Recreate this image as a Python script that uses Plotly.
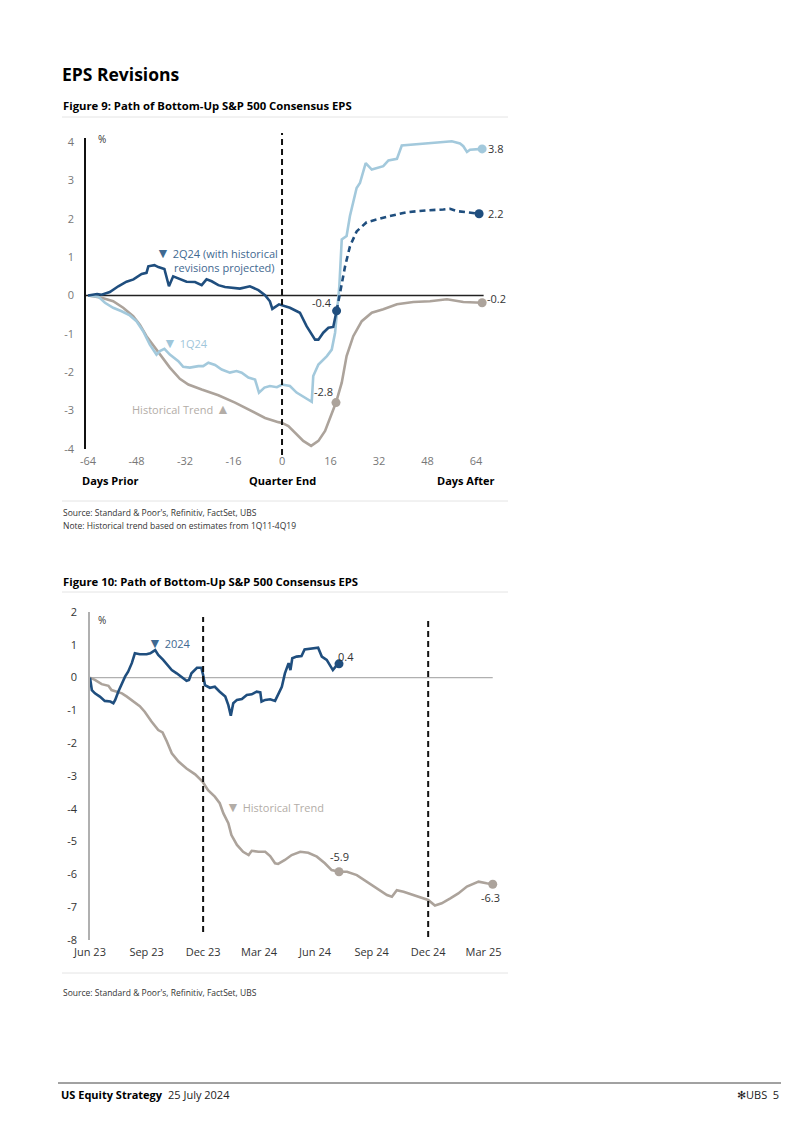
import plotly.graph_objects as go

OFF = 0
W, H = 802, 1134
def px(x): return (x - OFF) / W
def py(y): return 1 - (y - OFF) / H

# ---------------- Figure 9 data (days relative to quarter end, % revision) ----------------
q2_days = [-64, -61, -59.5, -56.8, -54, -51.3, -49, -46.3, -44.7, -44.1, -42.1, -40.8, -38.8, -37.5, -37.3,
           -35.9, -33.7, -31.5, -28.7, -26.5, -24.9, -23.2, -21, -18.8, -13.9, -10.6, -7.8, -5.6, -4, -3.2,
           -1, 0, 2.6, 5.9, 8.1, 10.9, 12, 13.6, 15.3, 16.9, 18]
q2_vals = [0, 0.04, 0.02, 0.09, 0.24, 0.36, 0.42, 0.56, 0.59, 0.76, 0.79, 0.74, 0.69, 0.24, 0.24,
           0.5, 0.44, 0.36, 0.35, 0.27, 0.42, 0.37, 0.27, 0.22, 0.18, 0.24, 0.14, 0.01, -0.15, -0.35,
           -0.23, -0.26, -0.32, -0.45, -0.8, -1.15, -1.15, -0.97, -0.84, -0.82, -0.4]
q2p_days = [18, 19.1, 20.8, 22.4, 24.6, 27.9, 31.2, 35.6, 41.2, 47.8, 53.2, 55.4, 57.6, 62, 65]
q2p_vals = [-0.4, 0.07, 0.76, 1.28, 1.67, 1.91, 1.98, 2.07, 2.17, 2.22, 2.24, 2.26, 2.2, 2.15, 2.13]

q1_days = [-64, -60.6, -58.4, -55.7, -52.9, -50.2, -48, -45.8, -43.6, -41.4, -40.3, -38.8, -37, -34.2, -32.6,
           -30.4, -27.6, -26, -24.3, -22.1, -19.9, -17.2, -15, -13.3, -11.1, -8.9, -7.6, -5.8, -4, -1.7,
           0, 2.6, 4.8, 7.6, 9.8, 10.3, 12, 14.8, 16.4, 17.5, 18.6, 18.9, 19.7, 21.3, 22.4,
           24.6, 25.7, 27.6, 29.6, 31.2, 33.4, 35.1, 37.9, 39.5, 42.2, 47.8, 53.2, 56, 58.7, 59.8,
           61, 62, 66]
q1_vals = [0, -0.03, -0.19, -0.32, -0.41, -0.52, -0.67, -0.93, -1.28, -1.54, -1.45, -1.39, -1.54, -1.71, -1.86,
           -1.88, -1.84, -1.84, -1.75, -1.81, -1.93, -2.01, -1.97, -2.01, -2.14, -2.19, -2.53, -2.4, -2.36, -2.39,
           -2.32, -2.36, -2.53, -2.66, -2.77, -2.1, -1.8, -1.58, -1.41, -0.97, -0.1, 0.24, 1.46, 1.55, 2.07,
           2.8, 2.93, 3.45, 3.28, 3.31, 3.37, 3.52, 3.56, 3.91, 3.93, 3.98, 4.0, 4.02, 3.96, 3.89,
           3.74, 3.8, 3.82]

hist_days = [-64, -59.5, -55.7, -52.4, -49.1, -46.9, -44.7, -41.9, -39.7, -37, -33.7, -30.9, -26.5, -21, -15.5,
             -10, -5.6, -1.2, 0, 2.1, 3.2, 7, 9.6, 12, 14.2, 17.8, 19.7, 21.3, 23.5, 26.3,
             29.6, 33.4, 37.9, 43.3, 48.8, 54.4, 59.8, 66]
hist_vals = [0, -0.06, -0.15, -0.32, -0.54, -0.76, -1.06, -1.36, -1.58, -1.88, -2.17, -2.32, -2.45, -2.6, -2.79,
             -3.01, -3.19, -3.3, -3.32, -3.4, -3.49, -3.79, -3.92, -3.79, -3.53, -2.79, -2.27, -1.58, -1.06, -0.67,
             -0.45, -0.36, -0.23, -0.17, -0.15, -0.1, -0.17, -0.19]

top_xticks = [-64, -48, -32, -16, 0, 16, 32, 48, 64]
top_yticks = [4, 3, 2, 1, 0, -1, -2, -3, -4]

# ---------------- Figure 10 data ----------------
y24_dates = ["2023-06-30", "2023-07-03", "2023-07-08", "2023-07-16", "2023-07-24", "2023-08-02", "2023-08-07",
             "2023-08-10", "2023-08-15", "2023-08-21", "2023-08-26", "2023-08-31", "2023-09-06", "2023-09-11",
             "2023-09-19", "2023-09-30", "2023-10-06", "2023-10-14", "2023-10-19", "2023-10-27", "2023-11-04",
             "2023-11-10", "2023-11-18", "2023-11-26", "2023-12-04", "2023-12-08", "2023-12-12", "2023-12-21",
             "2023-12-28", "2023-12-31", "2024-01-03", "2024-01-11", "2024-01-19", "2024-01-27", "2024-02-05",
             "2024-02-10", "2024-02-14", "2024-02-18", "2024-02-24", "2024-03-03", "2024-03-11", "2024-03-19",
             "2024-03-27", "2024-04-02", "2024-04-04", "2024-04-10", "2024-04-18", "2024-04-26", "2024-05-01",
             "2024-05-07", "2024-05-12", "2024-05-18", "2024-05-21", "2024-05-24", "2024-05-31", "2024-06-08",
             "2024-06-13", "2024-06-22", "2024-07-05", "2024-07-11", "2024-07-19", "2024-07-29", "2024-08-03",
             "2024-08-08"]
y24_vals = [0, -0.38, -0.48, -0.58, -0.71, -0.73, -0.78,
            -0.68, -0.43, -0.17, 0.03, 0.18, 0.44, 0.74,
            0.71, 0.71, 0.74, 0.84, 0.69, 0.54, 0.38,
            0.23, 0.13, 0.0, -0.1, -0.07, 0.13, 0.3,
            0.3, 0.08, -0.23, -0.31, -0.28, -0.43, -0.58,
            -0.84, -1.16, -0.78, -0.68, -0.65, -0.53, -0.51,
            -0.43, -0.45, -0.73, -0.68, -0.66, -0.71, -0.53,
            -0.28, 0.13, 0.44, 0.23, 0.59, 0.64, 0.66,
            0.86, 0.89, 0.91, 0.64, 0.54, 0.23, 0.35,
            0.42]

ht_dates = ["2023-06-30", "2023-07-08", "2023-07-19", "2023-07-30", "2023-08-04", "2023-08-12", "2023-08-21",
            "2023-08-29", "2023-09-08", "2023-09-19", "2023-09-27", "2023-10-08", "2023-10-19", "2023-10-26",
            "2023-11-02", "2023-11-10", "2023-11-21", "2023-12-04", "2023-12-18", "2023-12-30", "2024-01-08",
            "2024-01-19", "2024-01-27", "2024-02-02", "2024-02-10", "2024-02-15", "2024-02-24", "2024-03-05",
            "2024-03-14", "2024-03-19", "2024-03-30", "2024-04-10", "2024-04-18", "2024-04-26", "2024-05-01",
            "2024-05-12", "2024-05-23", "2024-06-06", "2024-06-19", "2024-07-03", "2024-07-16", "2024-07-27",
            "2024-08-08", "2024-08-21", "2024-09-06", "2024-09-22", "2024-10-08", "2024-10-25", "2024-11-02",
            "2024-11-10", "2024-11-21", "2024-12-07", "2024-12-23", "2024-12-31", "2025-01-11", "2025-01-22",
            "2025-02-05", "2025-02-18", "2025-03-04", "2025-03-15", "2025-03-23", "2025-04-05", "2025-04-15"]
ht_vals = [0, -0.07, -0.2, -0.25, -0.38, -0.43, -0.48,
           -0.58, -0.73, -0.87, -1.04, -1.34, -1.6, -1.67,
           -1.95, -2.31, -2.56, -2.77, -2.95, -3.17, -3.43,
           -3.63, -3.83, -4.14, -4.44, -4.8, -5.1, -5.31,
           -5.41, -5.28, -5.31, -5.31, -5.44, -5.66, -5.68,
           -5.56, -5.41, -5.31, -5.34, -5.46, -5.66, -5.87,
           -5.92, -5.92, -6.02, -6.22, -6.42, -6.63, -6.68,
           -6.48, -6.53, -6.63, -6.73, -6.78, -6.95, -6.88,
           -6.73, -6.58, -6.37, -6.27, -6.22, -6.27, -6.3]

bot_xtick_vals = ["2023-06-30", "2023-09-30", "2023-12-31", "2024-03-31", "2024-06-30",
                  "2024-09-30", "2024-12-31", "2025-03-31"]
bot_xtick_text = ["Jun 23", "Sep 23", "Dec 23", "Mar 24", "Jun 24", "Sep 24", "Dec 24", "Mar 25"]
bot_yticks = [2, 1, 0, -1, -2, -3, -4, -5, -6, -7, -8]
year_ends = ["2023-12-31", "2024-12-31"]

# ---------------- styles ----------------
DARK = "#1f4e7e"
LIGHT = "#a3c9dc"
GREY = "#aca39b"
DARK_T = "#3f6991"
LIGHT_T = "#9fc6da"
GREY_T = "#b3ada7"
FONT = "Open Sans"
DOWN = "<span style='font-size:14px'>▼</span>"
UP = "<span style='font-size:14px'>▲</span>"

fig = go.Figure()

fig.add_trace(go.Scatter(x=hist_days, y=hist_vals, mode="lines", line=dict(color=GREY, width=2.6),
                         xaxis="x", yaxis="y", showlegend=False, hoverinfo="skip"))
fig.add_trace(go.Scatter(x=q1_days, y=q1_vals, mode="lines", line=dict(color=LIGHT, width=2.6),
                         xaxis="x", yaxis="y", showlegend=False, hoverinfo="skip"))
fig.add_trace(go.Scatter(x=q2p_days, y=q2p_vals, mode="lines", line=dict(color=DARK, width=2.6, dash="6px,4px"),
                         xaxis="x", yaxis="y", showlegend=False, hoverinfo="skip"))
fig.add_trace(go.Scatter(x=q2_days, y=q2_vals, mode="lines", line=dict(color=DARK, width=2.6),
                         xaxis="x", yaxis="y", showlegend=False, hoverinfo="skip"))
fig.add_trace(go.Scatter(x=[hist_days[25], hist_days[-1]], y=[hist_vals[25], hist_vals[-1]], mode="markers",
                         marker=dict(color=GREY, size=9), xaxis="x", yaxis="y", showlegend=False, cliponaxis=False))
fig.add_trace(go.Scatter(x=[q1_days[-1]], y=[q1_vals[-1]], mode="markers",
                         marker=dict(color=LIGHT, size=9), xaxis="x", yaxis="y", showlegend=False, cliponaxis=False))
fig.add_trace(go.Scatter(x=[q2_days[-1], q2p_days[-1]], y=[q2_vals[-1], q2p_vals[-1]], mode="markers",
                         marker=dict(color=DARK, size=9), xaxis="x", yaxis="y", showlegend=False, cliponaxis=False))

fig.add_trace(go.Scatter(x=ht_dates, y=ht_vals, mode="lines", line=dict(color=GREY, width=2.6),
                         xaxis="x2", yaxis="y2", showlegend=False, hoverinfo="skip"))
fig.add_trace(go.Scatter(x=y24_dates, y=y24_vals, mode="lines", line=dict(color=DARK, width=2.6),
                         xaxis="x2", yaxis="y2", showlegend=False, hoverinfo="skip"))
fig.add_trace(go.Scatter(x=[ht_dates[42], ht_dates[-1]], y=[ht_vals[42], ht_vals[-1]], mode="markers",
                         marker=dict(color=GREY, size=9), xaxis="x2", yaxis="y2", showlegend=False, cliponaxis=False))
fig.add_trace(go.Scatter(x=[y24_dates[-1]], y=[y24_vals[-1]], mode="markers",
                         marker=dict(color=DARK, size=9), xaxis="x2", yaxis="y2", showlegend=False, cliponaxis=False))

shapes = []
shapes.append(dict(type="line", xref="x", yref="y", x0=-64.66, x1=66.5, y0=0, y1=0,
                   line=dict(color="#222", width=1.3), layer="below"))
shapes.append(dict(type="line", xref="x2", yref="y2", x0="2023-06-30", x1="2025-04-15", y0=0, y1=0,
                   line=dict(color="#b0b0b0", width=1.3), layer="below"))
shapes.append(dict(type="line", xref="x", yref="paper", x0=0, x1=0, y0=py(455), y1=py(133),
                   line=dict(color="#111", width=2, dash="6px,4px")))
shapes.append(dict(type="line", xref="x2", yref="paper", x0=year_ends[0], x1=year_ends[0], y0=py(932), y1=py(617),
                   line=dict(color="#111", width=2, dash="6px,4px")))
shapes.append(dict(type="line", xref="x2", yref="paper", x0=year_ends[1], x1=year_ends[1], y0=py(937), y1=py(618),
                   line=dict(color="#111", width=2, dash="6px,4px")))
for yy in (117, 501, 592, 973):
    shapes.append(dict(type="line", xref="paper", yref="paper", x0=px(62), x1=px(508), y0=py(yy), y1=py(yy),
                       line=dict(color="#e4e4e4", width=1)))
shapes.append(dict(type="line", xref="paper", yref="paper", x0=px(58), x1=px(781), y0=py(1083), y1=py(1083),
                   line=dict(color="#444", width=1)))

ann = []
def text(x, y, s, size=11, color="#000", anchor="left", bold=False, yanchor="middle"):
    ann.append(dict(xref="paper", yref="paper", x=px(x), y=py(y), text=("<b>%s</b>" % s) if bold else s,
                    showarrow=False, xanchor=anchor, yanchor=yanchor,
                    font=dict(family=FONT, size=size, color=color)))

text(60, 74, "EPS Revisions", size=17.5, bold=True)
text(61, 106, "Figure 9: Path of Bottom-Up S&P 500 Consensus EPS", size=11.3, bold=True)
text(96, 139, "%", size=10, color="#333")
text(80, 481, "Days Prior", size=11, bold=True, anchor="left")
text(282, 481, "Quarter End", size=11, bold=True, anchor="center")
text(497, 481, "Days After", size=11, bold=True, anchor="right")
text(61, 513, "Source: Standard & Poor's, Refinitiv, FactSet, UBS", size=8.5, color="#333")
text(61, 525, "Note: Historical trend based on estimates from 1Q11-4Q19", size=8.5, color="#333")
text(61, 581, "Figure 10: Path of Bottom-Up S&P 500 Consensus EPS", size=11.3, bold=True)
text(96, 620, "%", size=10, color="#333")
text(61, 992, "Source: Standard & Poor's, Refinitiv, FactSet, UBS", size=8.5, color="#333")
text(154, 253, DOWN + " 2Q24 (with historical", size=11, color=DARK_T)
text(172, 267, "revisions projected)", size=11, color=DARK_T)
text(161, 342, DOWN + " 1Q24", size=11, color=LIGHT_T)
text(130, 409, "Historical Trend " + UP, size=11, color=GREY_T)
text(146, 642, DOWN + " 2024", size=11, color=DARK_T)
text(224, 806, DOWN + " Historical Trend", size=11, color=GREY_T)
text(59, 1094, "US Equity Strategy", size=11, bold=True)
text(166, 1094, "25 July 2024", size=11, color="#222")
text(781, 1094, "✻UBS  5", size=11, color="#222", anchor="right")

def vlab(xr, yr, x, y, s, xanchor, xshift, yshift):
    ann.append(dict(xref=xr, yref=yr, x=x, y=y, text=s, showarrow=False, xanchor=xanchor, yanchor="middle",
                    xshift=xshift, yshift=yshift, font=dict(family=FONT, size=11, color="#333")))

vlab("x", "y", q1_days[-1], q1_vals[-1], "3.8", "left", 4, 0)
vlab("x", "y", q2p_days[-1], q2p_vals[-1], "2.2", "left", 7, 0)
vlab("x", "y", hist_days[-1], hist_vals[-1], "-0.2", "left", 3, 4)
vlab("x", "y", q2_days[-1], q2_vals[-1], "-0.4", "right", -3, 8)
vlab("x", "y", hist_days[25], hist_vals[25], "-2.8", "right", -1, 11)
vlab("x2", "y2", y24_dates[-1], y24_vals[-1], "0.4", "left", -3, 7)
vlab("x2", "y2", ht_dates[42], ht_vals[42], "-5.9", "center", 0, 15)
vlab("x2", "y2", ht_dates[-1], ht_vals[-1], "-6.3", "center", -2, -13)

fig.update_layout(
    width=W, height=H, margin=dict(l=0, r=0, t=0, b=0, pad=0, autoexpand=False), autosize=False,
    paper_bgcolor="white", plot_bgcolor="white",
    font=dict(family=FONT, size=11, color="#333"),
    shapes=shapes, annotations=ann, showlegend=False,
    xaxis=dict(domain=[px(86), px(490)], range=[-64.66, 68.6], tickvals=top_xticks,
               ticktext=[str(v) for v in top_xticks], automargin=False,
               showgrid=False, zeroline=False, showline=False, ticks="",
               tickfont=dict(family=FONT, size=11, color="#777"), ticklabelstandoff=4, anchor="y"),
    yaxis=dict(domain=[py(449), py(138)], range=[-4, 4.104], tickvals=top_yticks,
               ticktext=[str(v) for v in top_yticks], automargin=False,
               showgrid=False, zeroline=False, showline=True, linecolor="#111", linewidth=1.6,
               ticks="", tickfont=dict(family=FONT, size=11, color="#777"), ticklabelstandoff=8, anchor="x"),
    xaxis2=dict(domain=[px(90), px(495.8)], range=["2023-06-30", "2025-04-20"], type="date",
                tickvals=bot_xtick_vals, ticktext=bot_xtick_text, automargin=False,
                showgrid=False, zeroline=False, showline=False, ticks="",
                tickfont=dict(family=FONT, size=11, color="#333"), ticklabelstandoff=4, anchor="y2"),
    yaxis2=dict(domain=[py(940), py(612)], range=[-8, 2], tickvals=bot_yticks,
                ticktext=[str(v) for v in bot_yticks], automargin=False,
                showgrid=False, zeroline=False, showline=True, linecolor="#b0b0b0", linewidth=1.6,
                ticks="", tickfont=dict(family=FONT, size=11, color="#333"), ticklabelstandoff=9, anchor="x2"),
)

fig.write_html("out.html")
